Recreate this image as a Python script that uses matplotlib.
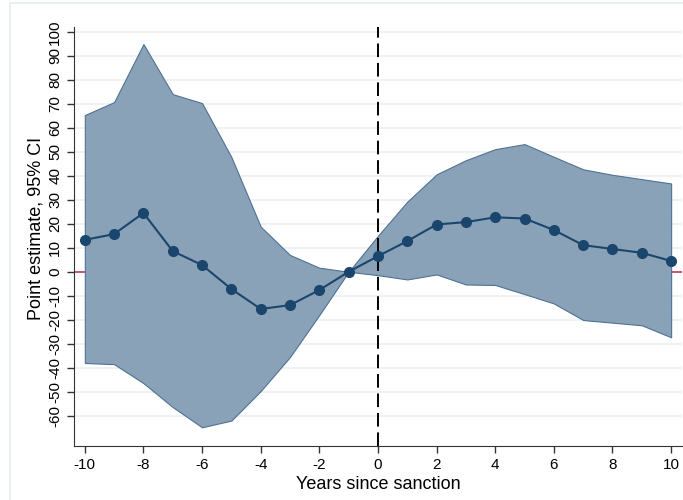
import matplotlib as mpl
mpl.use('Agg')
import matplotlib.pyplot as plt
from matplotlib.patches import Rectangle

# event-study estimates
years = [-10, -9, -8, -7, -6, -5, -4, -3, -2, -1, 0, 1, 2, 3, 4, 5, 6, 7, 8, 9, 10]
estimate = [13.3, 15.7, 24.5, 8.6, 2.8, -7.2, -15.5, -13.9, -7.6, 0.0,
            6.5, 12.8, 19.7, 20.7, 22.7, 22.2, 17.4, 11.1, 9.5, 7.9, 4.5]
ci_upper = [65.3, 70.7, 94.9, 74.0, 70.3, 47.8, 18.8, 7.0, 1.7, 0.0,
            15.0, 29.2, 40.6, 46.5, 51.1, 53.2, 47.9, 42.7, 40.4, 38.6, 36.8]
ci_lower = [-38.0, -38.5, -46.4, -56.4, -64.8, -62.0, -49.7, -35.5, -18.0, 0.0,
            -1.4, -3.2, -1.1, -5.3, -5.5, -9.3, -13.2, -20.1, -21.2, -22.3, -27.3]

xticks = list(range(-10, 11, 2))
yticks = list(range(-60, 101, 10))

plt.rcParams['font.family'] = ['Liberation Sans', 'DejaVu Sans']

fig = plt.figure(figsize=(6.83, 5.0), dpi=100)
ax = fig.add_axes([0.1083, 0.108, 0.8902, 0.838])

# light outer frame of the graph region
fig.patches.append(Rectangle((10 / 683, -0.01), 1.0, 1.0 - 3 / 500 + 0.01,
                             transform=fig.transFigure, fill=False,
                             edgecolor='#e4ecee', linewidth=1.2))

for yv in yticks:
    ax.axhline(yv, color='#eaf0f2', linewidth=1.2, zorder=0)

ax.axhline(0, color='#c8385a', linewidth=1.2, zorder=1)

ax.fill_between(years, ci_lower, ci_upper, facecolor='#8aa2b8',
                edgecolor='#4f7193', linewidth=0.8, zorder=2)
ax.axvline(0, color='black', linewidth=1.4, linestyle=(0, (7, 3)), zorder=3)
ax.plot(years, estimate, color='#1a466e', linewidth=1.5, marker='o',
        markersize=7, zorder=4)

ax.set_xlim(-10.37, 10.37)
ax.set_ylim(-72.6, 102.0)
ax.set_xticks(xticks)
ax.set_yticks(yticks)
ax.set_xticklabels([str(t) for t in xticks], fontsize=11)
ax.set_yticklabels([str(t) for t in yticks], fontsize=11, rotation=90,
                   va='center')
ax.tick_params(direction='out', length=5, width=1, color='#333333')

ax.spines['top'].set_visible(False)
ax.spines['right'].set_visible(False)
ax.spines['left'].set_color('#333333')
ax.spines['bottom'].set_color('#333333')

ax.set_xlabel('Years since sanction', fontsize=13, labelpad=3)
ax.set_ylabel('Point estimate, 95% CI', fontsize=13)
ax.yaxis.set_label_coords(-0.049, 0.52)

fig.savefig('out.png', dpi=100)
